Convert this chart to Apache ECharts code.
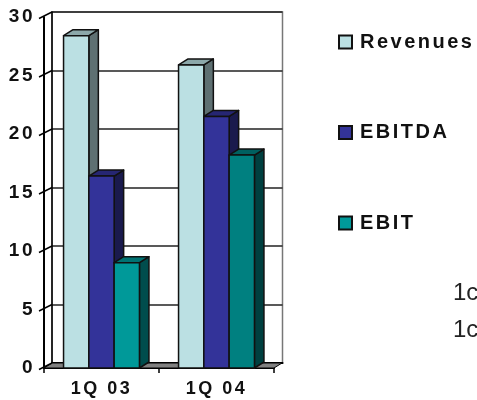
<!DOCTYPE html>
<html>
<head>
<meta charset="utf-8">
<style>html,body{margin:0;padding:0;background:#fff;overflow:hidden}#chart{width:477px;height:400px}</style>
<script src="https://cdn.jsdelivr.net/npm/echarts@6/dist/echarts.min.js"></script>
</head>
<body>
<div id="chart"></div>
<script>
// Quarterly figures
const categories = ['1Q 03', '1Q 04'];
const revenues = [28.4, 25.9];
const ebitda = [16.4, 21.5];
const ebit = [9.0, 18.2];
const yTicks = [0, 5, 10, 15, 20, 25, 30];
const sideNotes = ['1c', '1c'];

// Bold labels are tracked out; the canvas context does the spacing.
const rawFillText = CanvasRenderingContext2D.prototype.fillText;
CanvasRenderingContext2D.prototype.fillText = function (...args) {
  this.letterSpacing = /bold/.test(this.font) ? '2.5px' : '0px';
  return rawFillText.apply(this, args);
};

const FONT = '"Liberation Sans", Arial, sans-serif';
const WALL = { dx: 8, dy: -5 };       // offset of the back wall from the front plane
const DEPTH = { dx: 9.5, dy: -6 };    // extrusion of each column
const BAR_SHARE = 0.22;               // column width as a share of the category band
const EDGE = '#111';

function columnSeries(name, values, slot, faces) {
  return {
    name, type: 'custom', xAxisIndex: 0, yAxisIndex: 0, z: 5 + slot, clip: false,
    itemStyle: { color: faces[0].front, borderColor: EDGE, borderWidth: 1.5 },
    data: values.map((v, i) => [i, v]),
    renderItem(params, api) {
      const f = faces[Math.min(params.dataIndex, faces.length - 1)];
      const top = api.coord([api.value(0), api.value(1)]);
      const base = api.coord([api.value(0), 0]);
      const w = api.size([1, 0])[0] * BAR_SHARE;
      const x0 = top[0] + (slot - 1.5) * w, x1 = x0 + w;
      const { dx, dy } = DEPTH;
      const face = (points, fill) => ({
        type: 'polygon', shape: { points },
        style: { fill, stroke: EDGE, lineWidth: 1.5, lineJoin: 'round' }
      });
      return {
        type: 'group',
        children: [
          face([[x1, top[1]], [x1 + dx, top[1] + dy], [x1 + dx, base[1] + dy], [x1, base[1]]], f.side),
          face([[x0, top[1]], [x0 + dx, top[1] + dy], [x1 + dx, top[1] + dy], [x1, top[1]]], f.top),
          face([[x0, top[1]], [x1, top[1]], [x1, base[1]], [x0, base[1]]], f.front)
        ]
      };
    }
  };
}

const revenueFaces = [{ front: '#BBE0E3', top: '#8CA8AA', side: '#5E7072' }];
const ebitdaFaces = [{ front: '#333399', top: '#262673', side: '#1A1A4D' }];
const ebitFaces = [
  { front: '#009999', top: '#007373', side: '#004D4D' },
  { front: '#008080', top: '#006060', side: '#004040' }
];

// Grey floor plus the slanted ticks joining the front axis to the back wall.
const frameSeries = {
  type: 'custom', xAxisIndex: 0, yAxisIndex: 0, z: 3, clip: false, silent: true,
  data: yTicks.map(v => [0, v]),
  renderItem(params, api) {
    const left = params.coordSys.x;
    const right = left + params.coordSys.width;
    const y = api.coord([0, api.value(1)])[1];
    const children = [{
      type: 'line',
      shape: { x1: left - 5, y1: y + 1.5, x2: left + WALL.dx, y2: y + WALL.dy },
      style: { stroke: '#000', lineWidth: 1.5 }
    }];
    if (api.value(1) === 0) {
      children.unshift({
        type: 'polygon',
        shape: { points: [[left, y], [left + WALL.dx, y + WALL.dy], [right + WALL.dx, y + WALL.dy], [right, y]] },
        style: { fill: '#808080', stroke: '#000', lineWidth: 1 }
      });
    }
    return { type: 'group', children };
  }
};

const option = {
  animation: false,
  backgroundColor: '#fff',
  grid: [
    { left: 44, top: 17, width: 230, height: 351 },
    { left: 52, top: 12, width: 230.5, height: 351, show: true, borderColor: '#777', borderWidth: 1.5, backgroundColor: 'transparent' }
  ],
  xAxis: [
    {
      type: 'category', gridIndex: 0, data: categories,
      axisLine: { lineStyle: { color: '#000', width: 2 } },
      axisTick: { show: true, length: 5, lineStyle: { color: '#000', width: 1.5 } },
      axisLabel: { fontFamily: FONT, fontWeight: 'bold', fontSize: 18, color: '#111', margin: 12 }
    },
    {
      type: 'category', gridIndex: 1, data: categories, position: 'top',
      axisLine: { lineStyle: { color: '#000', width: 2 } },
      axisTick: { show: false }, axisLabel: { show: false }
    }
  ],
  yAxis: [
    {
      type: 'value', gridIndex: 0, min: 0, max: 30, interval: 5,
      axisLine: { show: true, lineStyle: { color: '#000', width: 2 } },
      axisTick: { show: false }, splitLine: { show: false },
      axisLabel: { fontFamily: FONT, fontWeight: 'bold', fontSize: 19, color: '#111', margin: 9, padding: [4, 0, 0, 0] }
    },
    {
      type: 'value', gridIndex: 1, min: 0, max: 30, interval: 5,
      axisLine: { show: true, lineStyle: { color: '#000', width: 1.5 } },
      axisTick: { show: false }, axisLabel: { show: false },
      splitLine: { show: true, lineStyle: { color: '#222', width: 1.5 } }
    }
  ],
  legend: {
    orient: 'vertical', left: 333, top: 27, icon: 'rect',
    itemWidth: 13, itemHeight: 13, itemGap: 70.5,
    data: ['Revenues', 'EBITDA', 'EBIT'],
    textStyle: { fontFamily: FONT, fontWeight: 'bold', fontSize: 20, color: '#111', padding: [0, 0, 0, 3] }
  },
  graphic: sideNotes.map((text, i) => ({
    type: 'text', left: 453, top: 281 + i * 37,
    style: { text, fontFamily: FONT, fontSize: 24, fill: '#222' }
  })),
  series: [
    frameSeries,
    columnSeries('Revenues', revenues, 0, revenueFaces),
    columnSeries('EBITDA', ebitda, 1, ebitdaFaces),
    columnSeries('EBIT', ebit, 2, ebitFaces)
  ]
};

echarts.init(document.getElementById('chart'), null, { renderer: 'canvas' }).setOption(option);
</script>
</body>
</html>
